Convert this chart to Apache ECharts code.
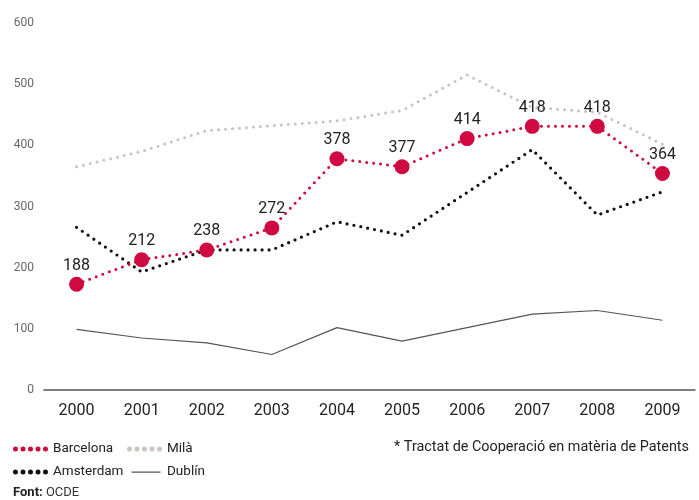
<!DOCTYPE html>
<html>
<head>
<meta charset="utf-8">
<script src="https://cdn.jsdelivr.net/npm/echarts@6/dist/echarts.min.js"></script>
<style>
  html, body { margin: 0; padding: 0; background: #fff; }
  #chart { width: 699px; height: 500px; }
</style>
</head>
<body>
<div id="chart"></div>
<script>
const years = ['2000', '2001', '2002', '2003', '2004', '2005', '2006', '2007', '2008', '2009'];
// plotted positions and the printed labels
const barcelona = [173, 213, 229, 265, 378, 365, 411, 431, 431, 354];
const barcelonaLabels = ['188', '212', '238', '272', '378', '377', '414', '418', '418', '364'];
const mila = [365, 390, 424, 432, 440, 457, 515, 462, 454, 402];
const amsterdam = [266, 193, 229, 229, 275, 253, 323, 393, 286, 324];
const dublin = [99, 85, 77, 58, 102, 80, 102, 124, 130, 114];

const red = '#cf0a40';
const grey = '#cbc2bf';
const dark = '#111';
const lineGrey = '#555';

// legend icons: five dots, or a thin line
const dotsIcon = 'path://M0,2.5a2.5,2.5 0 1,0 5,0a2.5,2.5 0 1,0 -5,0M7.5,2.5a2.5,2.5 0 1,0 5,0a2.5,2.5 0 1,0 -5,0M15,2.5a2.5,2.5 0 1,0 5,0a2.5,2.5 0 1,0 -5,0M22.5,2.5a2.5,2.5 0 1,0 5,0a2.5,2.5 0 1,0 -5,0M30,2.5a2.5,2.5 0 1,0 5,0a2.5,2.5 0 1,0 -5,0Z';
const lineIcon = 'path://M3,2L32,2L32,3.2L3,3.2Z M0,0L0.01,0 M0,5L0.01,5Z';

const legendText = { color: '#222', fontSize: 13.5, fontFamily: 'Roboto', lineHeight: 16 };

const chart = echarts.init(document.getElementById('chart'));
chart.setOption({
  animation: false,
  textStyle: { fontFamily: 'Roboto' },
  grid: { left: 44, right: 4, top: 23, bottom: 110 },
  title: [
    {
      text: '* Tractat de Cooperació en matèria de Patents',
      right: 5, top: 435,
      textStyle: { color: '#222', fontSize: 14.4, fontWeight: 'normal', fontFamily: 'Roboto' }
    },
    {
      text: '{b|Font:} OCDE',
      left: 8, top: 481,
      textStyle: {
        color: '#333', fontSize: 13, fontWeight: 'normal', fontFamily: 'Roboto',
        rich: { b: { fontWeight: 'bold', fontSize: 13, color: '#222', fontFamily: 'Roboto' } }
      }
    }
  ],
  legend: [
    {
      orient: 'vertical', left: 8, top: 436,
      itemWidth: 35, itemHeight: 5, itemGap: 7,
      selectedMode: false,
      textStyle: legendText,
      data: [{ name: 'Barcelona', icon: dotsIcon }, { name: 'Amsterdam', icon: dotsIcon }]
    },
    {
      orient: 'vertical', left: 122, top: 436,
      itemWidth: 35, itemHeight: 5, itemGap: 7,
      selectedMode: false,
      textStyle: legendText,
      data: [{ name: 'Milà', icon: dotsIcon }, { name: 'Dublín', icon: lineIcon }]
    }
  ],
  xAxis: {
    type: 'category',
    data: years,
    axisLine: { lineStyle: { color: lineGrey, width: 1.5 } },
    axisTick: { show: false },
    axisLabel: { color: '#222', fontSize: 16, margin: 13 }
  },
  yAxis: {
    type: 'value',
    min: 0, max: 600, interval: 100,
    axisLine: { show: false },
    axisTick: { show: false },
    splitLine: { show: false },
    axisLabel: { color: '#666', fontSize: 12, margin: 10 }
  },
  series: [
    {
      name: 'Dublín', type: 'line', data: dublin,
      symbol: 'none', color: lineGrey,
      lineStyle: { color: lineGrey, width: 1.2 }
    },
    {
      name: 'Milà', type: 'line', data: mila,
      symbol: 'none', color: grey,
      lineStyle: { color: grey, width: 3, type: [0, 7], cap: 'round' }
    },
    {
      name: 'Amsterdam', type: 'line', data: amsterdam,
      symbol: 'none', color: dark,
      lineStyle: { color: dark, width: 3.2, type: [0, 7], cap: 'round' }
    },
    {
      name: 'Barcelona', type: 'line', data: barcelona,
      symbol: 'circle', symbolSize: 15, color: red,
      itemStyle: { color: red },
      lineStyle: { color: red, width: 3, type: [0, 7], cap: 'round' },
      label: {
        show: true, position: 'top', distance: 3,
        color: '#222', fontSize: 16,
        formatter: p => barcelonaLabels[p.dataIndex]
      }
    }
  ]
});
</script>
</body>
</html>
